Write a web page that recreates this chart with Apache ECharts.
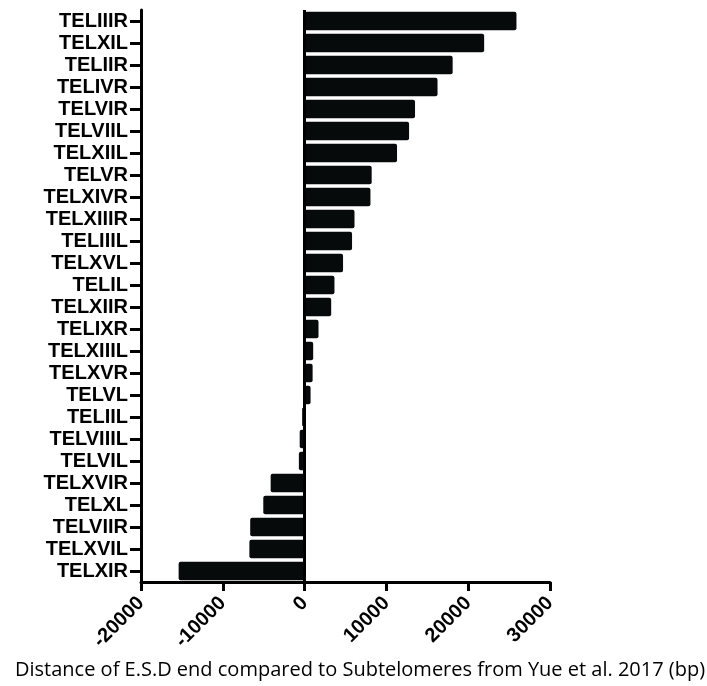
<!DOCTYPE html>
<html>
<head>
<meta charset="utf-8">
<script src="https://cdn.jsdelivr.net/npm/echarts@6/dist/echarts.min.js"></script>
<style>html,body{margin:0;padding:0;background:#fff}#c{width:707px;height:686px}</style>
</head>
<body>
<div id="c"></div>
<script>
var categories = ["TELIIIR","TELXIL","TELIIR","TELIVR","TELVIR","TELVIIL","TELXIIL","TELVR","TELXIVR","TELXIIIR","TELIIIL","TELXVL","TELIL","TELXIIR","TELIXR","TELXIIIL","TELXVR","TELVL","TELIIL","TELVIIIL","TELVIL","TELXVIR","TELXL","TELVIIR","TELXVIL","TELXIR"];
var values = [25900, 21950, 18100, 16250, 13500, 12770, 11300, 8200, 8050, 6100, 5800, 4700, 3650, 3250, 1700, 1050, 980, 730, -300, -600, -700, -4150, -5050, -6650, -6750, -15400];
var xTicks = {min: -20000, max: 30000, interval: 10000};
var xTitle = "Distance of E.S.D end compared to Subtelomeres from Yue et al. 2017 (bp)";

var chart = echarts.init(document.getElementById('c'), null, {renderer: 'canvas'});
chart.setOption({
  animation: false,
  title: {
    text: xTitle, left: 10, top: 655,
    textStyle: {color: '#000', fontSize: 20, fontWeight: 'normal', fontFamily: 'Open Sans'}
  },
  grid: {left: 141, right: 157, top: 10, bottom: 104, outerBoundsMode: 'none', containLabel: false},
  xAxis: {
    type: 'value', min: xTicks.min, max: xTicks.max, interval: xTicks.interval,
    splitLine: {show: false},
    axisLine: {show: true, onZero: false, lineStyle: {color: '#000', width: 3}},
    axisTick: {show: true, length: 9, lineStyle: {color: '#000', width: 3}},
    axisLabel: {rotate: 45, color: '#000', fontWeight: 'bold', fontSize: 20, fontFamily: 'Liberation Sans, Arial', margin: 18,
      formatter: function (v) { return String(v); }}
  },
  yAxis: {
    type: 'category', data: categories, inverse: true,
    axisLine: {show: true, onZero: false, lineStyle: {color: '#000', width: 3}},
    axisTick: {show: true, length: 11, alignWithLabel: true, lineStyle: {color: '#000', width: 3}},
    axisLabel: {interval: 0, color: '#000', fontWeight: 'bold', fontSize: 20, fontFamily: 'Liberation Sans, Arial', margin: 13},
    splitLine: {show: false}
  },
  series: [{
    type: 'bar', data: values, barCategoryGap: '16%',
    itemStyle: {color: '#070a0b', borderRadius: 2},
    markLine: {
      silent: true, symbol: 'none', label: {show: false},
      lineStyle: {color: '#000', width: 3, type: 'solid'},
      data: [{xAxis: 0}]
    }
  }]
});
</script>
</body>
</html>
